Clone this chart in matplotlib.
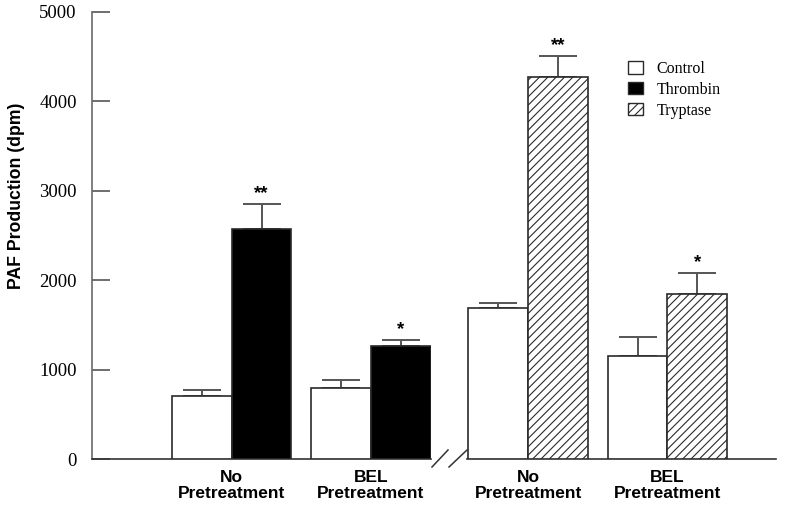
import matplotlib
matplotlib.use("Agg")
import matplotlib.pyplot as plt
from matplotlib.patches import Patch
from matplotlib.lines import Line2D

# ---- data ----
left_groups = ["No\nPretreatment", "BEL\nPretreatment"]
right_groups = ["No\nPretreatment", "BEL\nPretreatment"]
control_left = [705, 791]
control_left_err = [67, 89]
thrombin = [2573, 1261]
thrombin_err = [283, 70]
control_right = [1686, 1149]
control_right_err = [56, 219]
tryptase = [4270, 1846]
tryptase_err = [241, 238]
sig_left = ["**", "*"]
sig_right = ["**", "*"]
yticks = [0, 1000, 2000, 3000, 4000, 5000]
legend_labels = ["Control", "Thrombin", "Tryptase"]

W, H = 800, 508
fig = plt.figure(figsize=(8, 5.08), dpi=100)

def fx(px):
    return px / W

def fy(py):
    return (H - py) / H

bottom = fy(459)
height = fy(12) - bottom
axL = fig.add_axes([fx(92), bottom, fx(431) - fx(92), height])
axR = fig.add_axes([fx(467), bottom, fx(776) - fx(467), height])

bw = 0.43
edge = "#2a2a2a"
errc = "#555555"
sans = ["Liberation Sans", "DejaVu Sans"]
serif = ["Liberation Serif", "DejaVu Serif"]

plt.rcParams["hatch.linewidth"] = 0.8
plt.rcParams["hatch.color"] = "#222222"

def draw(ax, ctrl, ctrl_err, other, other_err, sig, hatch, color):
    xs = list(range(len(ctrl)))
    xc = [x - bw / 2 for x in xs]
    xo = [x + bw / 2 for x in xs]
    ax.bar(xc, ctrl, width=bw, color="white", edgecolor=edge, linewidth=1.2, zorder=3)
    ax.bar(xo, other, width=bw, color=color, edgecolor=edge, linewidth=1.2,
           hatch=hatch, zorder=3)
    ax.errorbar(xc, ctrl, yerr=[[0] * len(ctrl), ctrl_err], fmt="none",
                ecolor=errc, elinewidth=1.4, capsize=14, capthick=1.4, zorder=2)
    ax.errorbar(xo, other, yerr=[[0] * len(other), other_err], fmt="none",
                ecolor=errc, elinewidth=1.4, capsize=14, capthick=1.4, zorder=2)
    for x, v, e, s in zip(xo, other, other_err, sig):
        ax.text(x, v + e + 20, s, ha="center", va="bottom", fontsize=13.5,
                fontweight="bold", family=sans)
    ax.set_ylim(0, 5000)
    for sp in ["top", "right"]:
        ax.spines[sp].set_visible(False)
    ax.spines["bottom"].set_color("#333333")
    ax.spines["bottom"].set_linewidth(1.2)
    ax.set_xticks(xs)
    ax.tick_params(axis="x", length=0, pad=8)

draw(axL, control_left, control_left_err, thrombin, thrombin_err, sig_left, None, "black")
draw(axR, control_right, control_right_err, tryptase, tryptase_err, sig_right, "////", "white")

axL.set_xlim(-1.0, 1.43)
axR.set_xlim(-0.44, 1.78)

axL.set_xticklabels(left_groups, fontsize=12.5, fontweight="bold", family=sans,
                    multialignment="center", linespacing=1.1)
axR.set_xticklabels(right_groups, fontsize=12.5, fontweight="bold", family=sans,
                    multialignment="center", linespacing=1.1)

axL.spines["left"].set_color("#6a6a6a")
axL.spines["left"].set_linewidth(1.2)
axL.set_yticks(yticks)
axL.set_yticklabels([str(t) for t in yticks], family=serif, fontsize=13.5)
axL.tick_params(axis="y", direction="in", length=13, width=1.2, color="#555555", pad=11)
axL.set_ylabel("PAF Production (dpm)", fontsize=12.7, fontweight="bold", family=sans)
axL.yaxis.set_label_coords((25 - 92) / (431 - 92), (459 - 196) / (459 - 12))

axR.spines["left"].set_visible(False)
axR.set_yticks([])

# axis break marks
for x0, x1 in [(432, 448), (449, 467)]:
    fig.add_artist(Line2D([fx(x0), fx(x1)], [fy(467), fy(450)],
                          color="#333333", linewidth=1.1, transform=fig.transFigure))

handles = [Patch(facecolor="white", edgecolor=edge, linewidth=1.0),
           Patch(facecolor="black", edgecolor=edge, linewidth=1.0),
           Patch(facecolor="white", edgecolor=edge, linewidth=1.0, hatch="////")]
leg = fig.legend(handles, legend_labels, loc="upper left",
                 bbox_to_anchor=(fx(628), fy(61)), frameon=False,
                 prop={"family": serif, "size": 11.5}, handlelength=0.95,
                 handleheight=0.8, handletextpad=0.85, labelspacing=0.3,
                 borderaxespad=0, borderpad=0)

fig.savefig("out.png", dpi=100)
